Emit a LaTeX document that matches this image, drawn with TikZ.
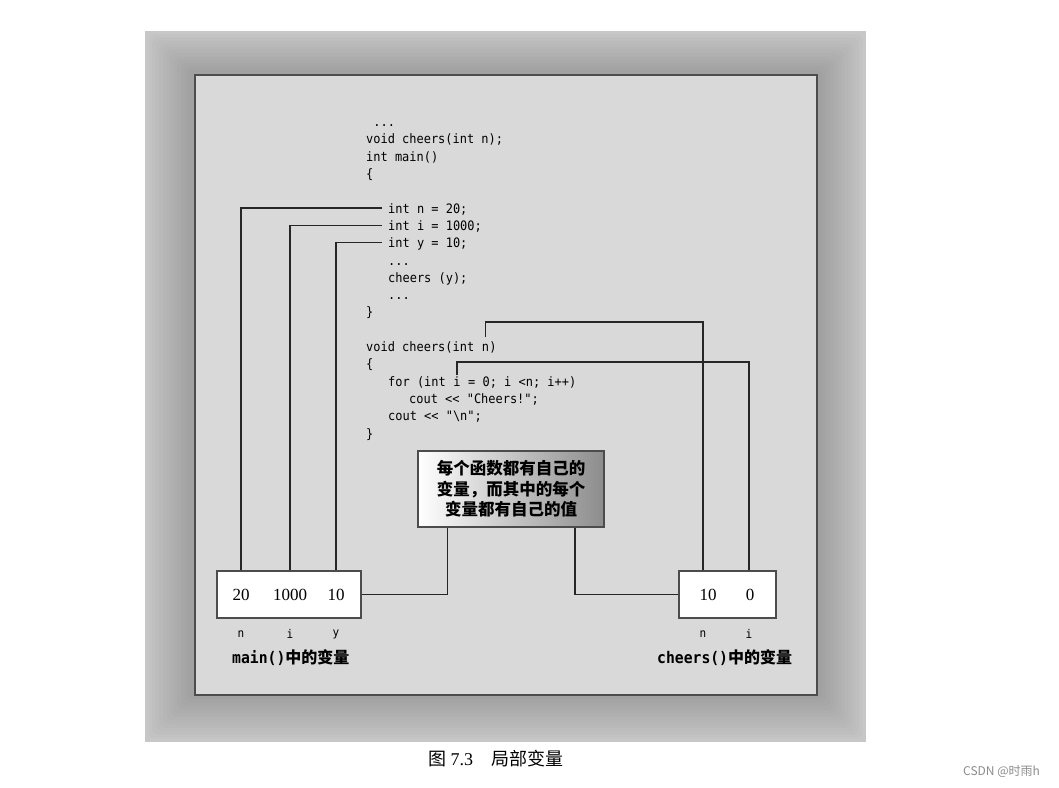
\documentclass[tikz,border=0pt]{standalone}
\usepackage{fontspec}
\setmainfont{Liberation Serif}
\newfontfamily\codefont{DejaVu Sans Mono}[FakeStretch=0.92]
\newfontfamily\cjk{Noto Sans CJK SC}
\usetikzlibrary{positioning, calc}

\begin{document}
\begin{tikzpicture}[
    x=1pt, y=-1pt,
    code/.style={font=\fontsize{13}{15}\codefont, anchor=west, inner sep=0pt, text height=13pt, text depth=3pt},
    varbox/.style={draw=black!70, line width=1.5pt, fill=white, minimum height=47pt},
    val/.style={font=\fontsize{17}{20}\selectfont, inner sep=0pt},
    vname/.style={font=\fontsize{12}{14}\codefont, inner sep=0pt},
    varcap/.style={font=\fontsize{16}{18}\selectfont, anchor=west, inner sep=0pt},
    note/.style={draw=black!70, line width=1.5pt, left color=white, right color=black!45, minimum width=186pt, minimum height=76pt, align=center, font=\fontsize{16.5}{20.5}\cjk\bfseries},
    link/.style={line width=1.5pt, black!85}
]
    \useasboundingbox[fill=white] (0,0) rectangle (1059,787);

    % Frame with shadow
    \fill[black!22] (145,31) rectangle (866,742);
    \foreach \k in {1,...,12}
        \fill[black, opacity=0.016, rounded corners=6pt] ({145+3.6*\k},{31+3.2*\k}) rectangle ({866-3.6*\k},{742-3.6*\k});
    \draw[black!70, line width=1.5pt, fill=black!15] (195,75) rectangle (817,695);

    % Code
    \node[code] (l0) at (366,121.6) {~...};
    \node[code] (l1) at (366,138.9) {void cheers(int n);};
    \node[code] (l2) at (366,156.2) {int main()};
    \node[code] (l3) at (366,173.5) {\{};
    \node[code] (varn) at (388,208.1) {int n = 20;};
    \node[code] (vari) at (388,225.4) {int i = 1000;};
    \node[code] (vary) at (388,242.7) {int y = 10;};
    \node[code] (l8) at (388,260) {...};
    \node[code] (l9) at (388,277.3) {cheers (y);};
    \node[code] (l10) at (388,294.6) {...};
    \node[code] (l11) at (366,311.9) {\}};
    \node[code] (decl) at (366,346.5) {void cheers(int\hphantom{x}};
    \node[code, right=0pt of decl] (declN) {n};
    \node[code, right=0pt of declN] (declE) {)};
    \node[code] (l14) at (366,363.8) {\{};
    \node[code] (forA) at (388,381.1) {for (int\hphantom{x}};
    \node[code, right=0pt of forA] (forI) {i};
    \node[code, right=0pt of forI] (forB) {~= 0; i <n; i++)};
    \node[code] (l16) at (409,398.4) {cout << "Cheers!";};
    \node[code] (l17) at (388,415.7) {cout << "\textbackslash n";};
    \node[code] (l18) at (366,433) {\}};

    % main() variables
    \node[varbox, minimum width=144pt] (mbox) at (289,594.5) {};
    \node[val] (m20) at (241,595) {20};
    \node[val] (m1000) at (290,595) {1000};
    \node[val] (m10) at (336,595) {10};
    \node[vname] (mn) at (241,634) {n};
    \node[vname] (mi) at (290,634) {i};
    \node[vname] (my) at (336,634) {y};
    \node[varcap] (mcap) at (232,658) {{\codefont\bfseries main()}{\cjk\bfseries 中的变量}};

    % cheers() variables
    \node[varbox, minimum width=97pt] (cbox) at (727.5,594.5) {};
    \node[val] (c10) at (708,595) {10};
    \node[val] (c0) at (750,595) {0};
    \node[vname] (cn) at (703,634) {n};
    \node[vname] (ci) at (749,634) {i};
    \node[varcap] (ccap) at (657,658) {{\codefont\bfseries cheers()}{\cjk\bfseries 中的变量}};

    % Note
    \node[note] (msg) at (511,489) {每个函数都有自己的\\变量，而其中的每个\\变量都有自己的值};

    % Links
    \draw[link] (mn |- mbox.north) |- ([xshift=-6pt]varn.west);
    \draw[link] (mi |- mbox.north) |- ([xshift=-6pt]vari.west);
    \draw[link] (my |- mbox.north) |- ([xshift=-6pt]vary.west);
    \draw[link] (mbox.east) -| ([xshift=30pt]msg.south west);
    \draw[link] ([xshift=-30pt]msg.south east) |- (cbox.west);
    \draw[link] (cn |- cbox.north) |- ([yshift=16.5pt]declN.north) -- ([yshift=1.2pt]declN.north);
    \draw[link] (ci |- cbox.north) |- ([yshift=11pt]forI.north) -- ([yshift=-2pt]forI.north);

    % Caption
    \node[anchor=west, inner sep=0pt, font=\fontsize{18}{20}\selectfont] (fig) at (428,759) {{\cjk 图}~7.3\quad{\cjk 局部变量}};
    \node[anchor=west, inner sep=0pt, font=\fontsize{12}{14}\cjk, text=black!45] (wm) at (963,772) {CSDN @时雨h};
\end{tikzpicture}
\end{document}
